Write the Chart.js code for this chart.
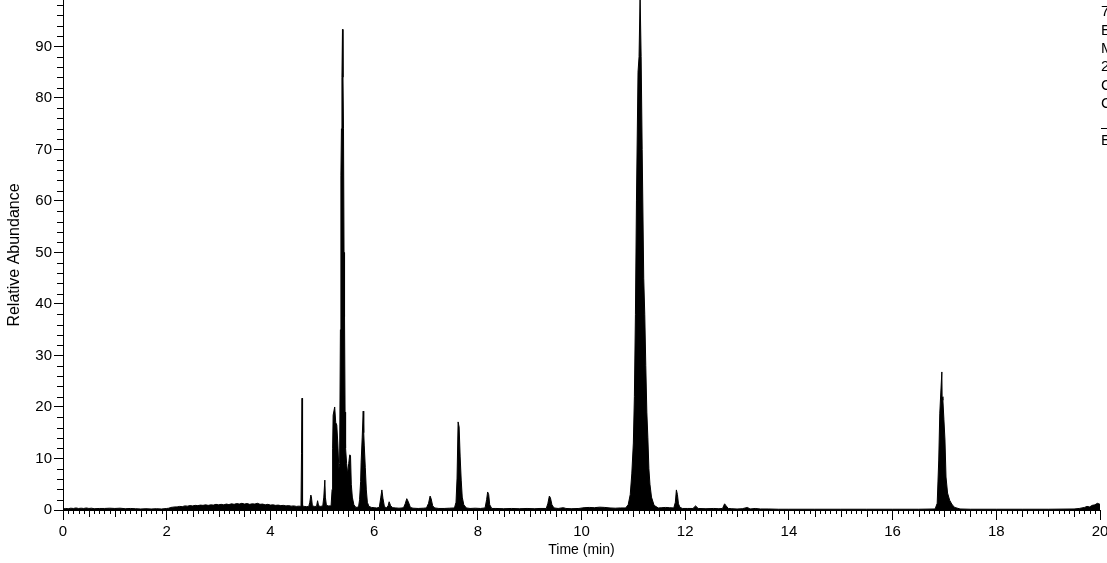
<!DOCTYPE html>
<html>
<head>
<meta charset="utf-8">
<script src="https://cdn.jsdelivr.net/npm/chart.js@4/dist/chart.umd.min.js"></script>
<style>
  html, body { margin: 0; padding: 0; background: #fff; }
  canvas { display: block; }
</style>
</head>
<body>
<canvas id="chrom" width="1107" height="563"></canvas>
<script>
// retention time (min) and relative abundance (%)
const retentionTimes = [
  0.00, 0.05, 0.10, 0.15, 0.20, 0.25, 0.30, 0.35, 0.40, 0.45, 0.50, 0.55, 0.60, 0.70, 0.80, 0.90, 1.00, 1.10, 1.20, 1.30, 1.40, 1.50, 1.60, 1.70, 1.80, 1.90, 2.00,
  2.04, 2.08, 2.12, 2.16, 2.20, 2.25, 2.30, 2.35, 2.40, 2.45, 2.50, 2.55, 2.60, 2.65, 2.70, 2.75, 2.80, 2.85, 2.90, 2.95, 3.00, 3.05, 3.10, 3.15, 3.20, 3.25, 3.30, 3.35, 3.40, 3.45, 3.50, 3.55, 3.60, 3.65, 3.70, 3.75, 3.80, 3.85, 3.90, 3.95, 4.00, 4.05, 4.10, 4.15, 4.20, 4.25, 4.30, 4.35, 4.40, 4.45, 4.50, 4.55, 4.59,
  4.60, 4.61, 4.62, 4.65, 4.70, 4.74, 4.76, 4.78, 4.79, 4.81, 4.85, 4.89, 4.91, 4.93, 4.97, 5.01, 5.03, 5.05, 5.06, 5.08, 5.12, 5.15,
  5.17, 5.19, 5.20, 5.21, 5.24, 5.26, 5.28, 5.30, 5.32, 5.335, 5.35, 5.36, 5.37, 5.38, 5.39, 5.40, 5.41, 5.42, 5.43, 5.44, 5.45, 5.47, 5.49, 5.51, 5.53, 5.545, 5.56, 5.58, 5.61, 5.65,
  5.70, 5.72, 5.74, 5.75, 5.77, 5.79, 5.80, 5.81, 5.83, 5.85, 5.87, 5.90, 5.95,
  6.00, 6.05, 6.10, 6.13, 6.15, 6.17, 6.20, 6.24, 6.27, 6.29, 6.32, 6.36, 6.42, 6.48, 6.54,
  6.57, 6.60, 6.63, 6.66, 6.70, 6.75, 6.85, 6.95, 7.01, 7.05, 7.08, 7.10, 7.13, 7.17, 7.25, 7.35, 7.45, 7.55,
  7.58, 7.60, 7.62, 7.64, 7.66, 7.68, 7.70, 7.73, 7.78, 7.85, 7.95, 8.05,
  8.14, 8.17, 8.19, 8.21, 8.23, 8.27, 8.35, 8.50, 8.65, 8.80, 8.95, 9.10, 9.20,
  9.32, 9.35, 9.38, 9.40, 9.43, 9.47, 9.55, 9.65, 9.70, 9.80, 9.95, 10.05, 10.15, 10.25, 10.35, 10.45, 10.55, 10.65, 10.75, 10.85,
  10.90, 10.94, 10.97, 11.00, 11.02, 11.04, 11.06, 11.09, 11.11, 11.13, 11.15, 11.17, 11.20, 11.22, 11.24, 11.26, 11.28, 11.30, 11.32, 11.35, 11.40, 11.48,
  11.55, 11.62, 11.70, 11.78, 11.81, 11.83, 11.85, 11.87, 11.90, 11.95, 12.05, 12.15, 12.20, 12.25, 12.40, 12.55, 12.65,
  12.72, 12.76, 12.79, 12.83, 12.90, 13.00, 13.10, 13.20, 13.25, 13.35, 13.45, 13.60, 13.80, 14.00, 14.50, 15.00, 15.50, 16.00, 16.50, 16.82,
  16.86, 16.89, 16.91, 16.93, 16.95, 16.955, 16.97, 16.99, 17.01, 17.03, 17.06, 17.10, 17.15, 17.20, 17.30,
  17.50, 18.00, 18.50, 19.00, 19.50, 19.60, 19.70, 19.75, 19.80, 19.85, 19.90, 19.95, 20.00
];
const relAbundance = [
  0.2, 0.3, 0.25, 0.35, 0.3, 0.4, 0.3, 0.35, 0.3, 0.4, 0.3, 0.35, 0.25, 0.3, 0.3, 0.35, 0.3, 0.35, 0.25, 0.3, 0.25, 0.2, 0.25, 0.2, 0.25, 0.2, 0.3,
  0.35, 0.5, 0.55, 0.6, 0.6, 0.7, 0.65, 0.8, 0.75, 0.85, 0.8, 0.9, 0.85, 0.95, 0.9, 1.0, 0.9, 1.0, 0.95, 1.1, 1.0, 1.1, 1.0, 1.15, 1.05, 1.2, 1.1, 1.25, 1.15, 1.3, 1.15, 1.25, 1.1, 1.2, 1.15, 1.3, 1.1, 1.15, 1.0, 1.1, 0.95, 1.0, 0.9, 0.95, 0.85, 0.9, 0.8, 0.85, 0.75, 0.8, 0.7, 0.75, 0.7,
  11, 21.7, 0.8, 0.7, 0.65, 0.7, 1.5, 2.9, 2.6, 0.8, 0.7, 0.7, 1.8, 0.8, 0.7, 0.8, 2.5, 5.8, 2.5, 0.9, 0.8, 0.8,
  0.8, 4, 12, 18.4, 20, 17, 16.5, 13, 8, 9, 35, 65, 74, 84, 93.3, 84, 74, 50, 37.5, 19, 12, 9, 7, 9, 10.7, 10.6, 5, 2.5, 1, 0.5,
  0.6, 2, 5.5, 9.3, 14, 19.2, 15, 12.6, 8.3, 3.9, 1.5, 0.7, 0.5,
  0.45, 0.4, 0.5, 2.5, 3.9, 2.3, 0.6, 0.45, 0.8, 1.6, 0.8, 0.45, 0.4, 0.35, 0.4,
  0.5, 1.2, 2.2, 1.6, 0.5, 0.35, 0.3, 0.35, 0.4, 1.3, 2.7, 2.2, 0.8, 0.4, 0.3, 0.3, 0.35, 0.4,
  1.5, 6.2, 17.1, 16.1, 10.3, 5.8, 2.5, 1, 0.4, 0.3, 0.35, 0.3,
  0.4, 2, 3.5, 3, 1, 0.3, 0.3, 0.25, 0.3, 0.25, 0.3, 0.25, 0.3,
  0.3, 1.2, 2.7, 2.4, 1, 0.4, 0.3, 0.45, 0.3, 0.25, 0.3, 0.45, 0.5, 0.45, 0.55, 0.5, 0.4, 0.35, 0.4, 0.4,
  1, 3, 7, 13, 22, 38, 60, 85, 88, 100, 88, 70, 45, 38, 28, 19, 14, 8, 5, 2.5, 0.9, 0.4,
  0.45, 0.5, 0.45, 0.4, 1.5, 3.9, 3, 1.2, 0.5, 0.3, 0.3, 0.3, 0.8, 0.3, 0.25, 0.3, 0.25,
  0.3, 1.2, 0.8, 0.3, 0.25, 0.2, 0.25, 0.5, 0.2, 0.3, 0.2, 0.2, 0.15, 0.15, 0.15, 0.15, 0.15, 0.15, 0.15, 0.2,
  1.3, 9.7, 18.8, 22.9, 26.8, 22, 21.3, 17.5, 13.6, 6.4, 3.3, 1.9, 1, 0.5, 0.2,
  0.15, 0.15, 0.15, 0.15, 0.2, 0.3, 0.5, 0.7, 0.6, 0.9, 1.0, 1.3, 1.1
];

const xMin = 0, xMax = 20, xMajorStep = 2;
const yMin = 0, yMax = 99, yMajorStep = 10;
const sideText = ["7", "E", "M", "2", "C", "C", "", "E"];

Chart.defaults.font.family = '"Liberation Sans", Arial, sans-serif';
Chart.defaults.color = "#000";

// minor tick marks drawn along the scales
const minorTicks = {
  id: "minorTicks",
  afterDraw(chart) {
    const { ctx, scales: { x, y }, chartArea } = chart;
    ctx.save();
    ctx.strokeStyle = "#000";
    ctx.lineWidth = 1;
    ctx.beginPath();
    for (let k = 0; k <= xMax * 10; k++) {
      if (k % (xMajorStep * 10) === 0) continue;
      const px = Math.round(x.getPixelForValue(k / 10)) + 0.5;
      const len = k % 5 === 0 ? 7 : 4;
      ctx.moveTo(px, chartArea.bottom);
      ctx.lineTo(px, chartArea.bottom + len);
    }
    for (let v = 0; v <= yMax; v += 2) {
      if (v % yMajorStep === 0) continue;
      const py = Math.round(y.getPixelForValue(v)) + 0.5;
      ctx.moveTo(chartArea.left, py);
      ctx.lineTo(chartArea.left - 6, py);
    }
    ctx.stroke();
    // clipped header text at the right edge
    ctx.font = '15px "Liberation Sans", Arial, sans-serif';
    ctx.fillStyle = "#000";
    ctx.textBaseline = "middle";
    sideText.forEach((s, i) => {
      if (s) ctx.fillText(s, 1101, 12 + i * 18.4);
    });
    ctx.beginPath();
    ctx.moveTo(1101, 128.5);
    ctx.lineTo(1107, 128.5);
    ctx.stroke();
    ctx.restore();
  }
};

new Chart(document.getElementById("chrom"), {
  type: "line",
  data: {
    datasets: [{
      data: retentionTimes.map((t, i) => ({ x: t, y: relAbundance[i] })),
      borderColor: "#000",
      backgroundColor: "#000",
      borderWidth: 1,
      fill: "origin",
      pointRadius: 0,
      tension: 0
    }]
  },
  options: {
    responsive: false,
    animation: false,
    layout: { padding: { left: 0, right: 7, top: 0, bottom: 0 } },
    plugins: { legend: { display: false }, tooltip: { enabled: false } },
    scales: {
      x: {
        type: "linear",
        min: xMin,
        max: xMax,
        ticks: { stepSize: xMajorStep, font: { size: 15 }, padding: 3, maxRotation: 0 },
        grid: { drawOnChartArea: false, tickLength: 10, color: "#000" },
        border: { display: true, color: "#000", width: 1 },
        title: { display: true, text: "Time (min)", font: { size: 14 }, padding: { top: 0, bottom: 4 } },
        afterFit: (s) => { s.height = 53; s.paddingLeft = 0; s.paddingRight = 0; }
      },
      y: {
        min: yMin,
        max: yMax,
        ticks: { stepSize: yMajorStep, font: { size: 15 }, padding: 2 },
        afterBuildTicks: (s) => { s.ticks = s.ticks.filter(t => t.value % yMajorStep === 0); },
        grid: { drawOnChartArea: false, tickLength: 9, color: "#000" },
        border: { display: true, color: "#000", width: 1 },
        title: { display: true, text: "Relative Abundance", font: { size: 16 }, padding: { top: 5, bottom: 0 } },
        afterFit: (s) => { s.width = 63; s.paddingTop = 0; s.paddingBottom = 0; }
      }
    }
  },
  plugins: [minorTicks]
});
</script>
</body>
</html>
